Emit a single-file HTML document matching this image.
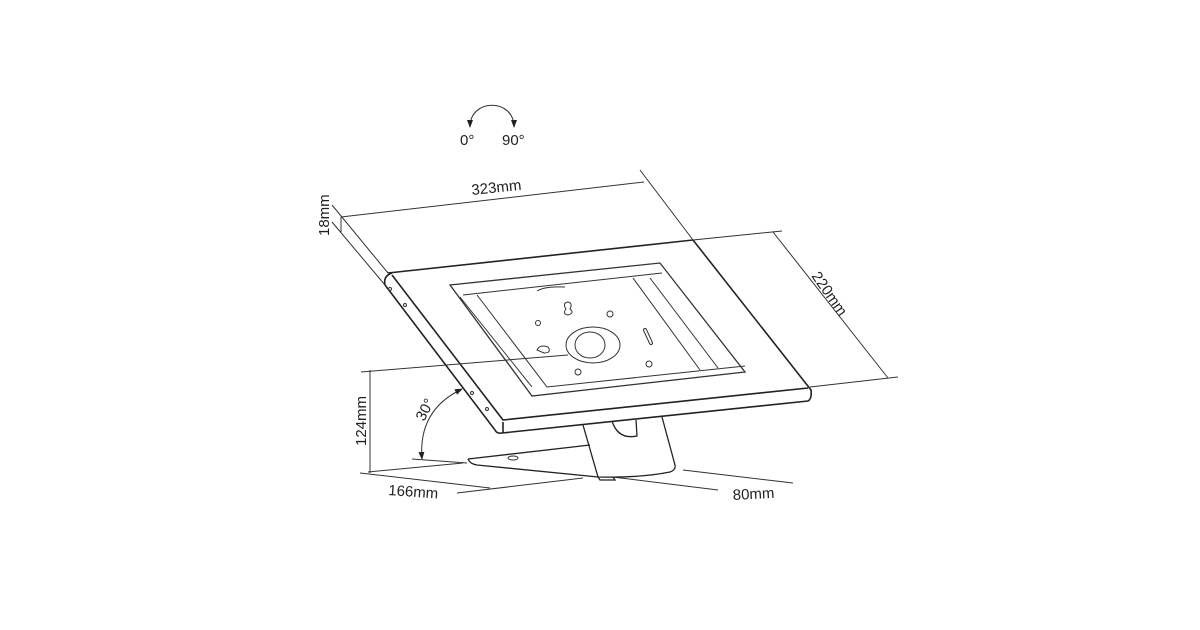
<!DOCTYPE html>
<html><head><meta charset="utf-8"><style>
html,body{margin:0;padding:0;background:#fff;}
svg{display:block}
text{font-family:"Liberation Sans",sans-serif;fill:#222;font-size:15px}
</style></head><body>
<svg width="1200" height="630" viewBox="0 0 1200 630" xmlns="http://www.w3.org/2000/svg">
<defs>
<marker id="ar" markerWidth="8" markerHeight="8" refX="7" refY="4" orient="auto-start-reverse" markerUnits="userSpaceOnUse"><path d="M0,1 L8,4 L0,7 Z" fill="#222"/></marker>
</defs>
<g fill="none" stroke="#333" stroke-width="1">
<!-- rotation icon -->
<path d="M470,127 C470,98 514,98 514,127" marker-start="url(#ar)" marker-end="url(#ar)"/>
<!-- 323 dim -->
<line x1="332" y1="205" x2="388" y2="273"/>
<line x1="332" y1="222" x2="385" y2="285"/>
<line x1="341" y1="217" x2="341" y2="232"/>
<line x1="341" y1="217" x2="644" y2="182"/>
<line x1="640" y1="170" x2="693" y2="240"/>
<!-- 220 dim -->
<line x1="693" y1="240" x2="782" y2="231"/>
<line x1="773" y1="232" x2="888" y2="378"/>
<line x1="810" y1="387" x2="898" y2="377"/>
<!-- frame -->
<g stroke-width="1.6" stroke="#222">
<path d="M388,273 L693,240"/>
<path d="M385,285 Q383,276 392,273"/>
<path d="M385,285 L495,430 Q497,434 502,433 L808,401 Q812,399 811,390 L693,240"/>
<path d="M392,275 L503,420 L808,388"/>
<path d="M503,422 L503,433"/>
</g>
<circle cx="390" cy="289" r="1.5"/><circle cx="405" cy="305" r="1.5"/><circle cx="472" cy="393" r="1.5"/><circle cx="487" cy="409" r="1.5"/>
<!-- inner opening -->
<path d="M450,285 L660,263 L745,372 L532,396 Z" stroke-width="1.3"/>
<path d="M463,295 L662,273"/>
<path d="M460,297 L532,387"/>
<path d="M477,295 L547,387 L745,366"/>
<path d="M633,278 L700,370"/>
<path d="M650,278 L718,368"/>
<path d="M537,291 Q545,286 565,287"/>
<!-- ring -->
<ellipse cx="593" cy="345" rx="27" ry="18"/>
<ellipse cx="590" cy="345" rx="15" ry="13"/>
<path d="M566,309 Q562,303 568,302 Q573,303 570,309 Q575,313 568,315 Q562,314 566,309Z"/>
<path d="M537,350 Q540,344 548,347 Q552,353 544,353 Z"/>
<circle cx="538" cy="323" r="2.5"/><circle cx="610" cy="314" r="3"/><circle cx="578" cy="372" r="3"/><circle cx="649" cy="364" r="3"/>
<path d="M645,330 L651,343" stroke-width="4" stroke-linecap="round"/>
<path d="M645,330 L651,343" stroke-width="2" stroke="#fff" stroke-linecap="round"/>
<!-- cut line & 124 dim -->
<line x1="361" y1="372" x2="568" y2="355"/>
<line x1="370" y1="370" x2="370" y2="473"/>
<line x1="360" y1="473" x2="490" y2="488"/>
<line x1="368" y1="472" x2="463" y2="463"/>
<line x1="457" y1="493" x2="583" y2="478"/>
<line x1="683" y1="470" x2="793" y2="483"/>
<line x1="613" y1="477" x2="718" y2="490"/>
<line x1="412" y1="459" x2="467" y2="463"/>
<path d="M462,389 Q418,410 422,459" marker-start="url(#ar)" marker-end="url(#ar)"/>
<!-- stand -->
<g stroke-width="1.3" stroke="#222">
<path d="M583,425 L598,477 Q640,478 670,472 Q676,470 675,465 L662,417"/>
<path d="M468,459 L590,445"/>
<path d="M468,459 Q470,464 477,465 L598,477"/>
<path d="M598,477 L600,480 L615,480 L613,477"/>
<path d="M612,421 Q618,440 637,436 L636,420"/>
</g>
<ellipse cx="513" cy="458" rx="5" ry="2"/>
</g>
<text x="460" y="145">0°</text>
<text x="502" y="145">90°</text>
<text x="472" y="195" transform="rotate(-6 472 195)">323mm</text>
<text x="329" y="236" transform="rotate(-90 329 236)">18mm</text>
<text x="811" y="276" transform="rotate(55 811 276)">220mm</text>
<text x="366" y="446" transform="rotate(-90 366 446)">124mm</text>
<text x="424" y="422" transform="rotate(-62 424 422)">30°</text>
<text x="388" y="495" transform="rotate(4 388 495)">166mm</text>
<text x="733" y="500" transform="rotate(-3 733 500)">80mm</text>
</svg>
</body></html>
